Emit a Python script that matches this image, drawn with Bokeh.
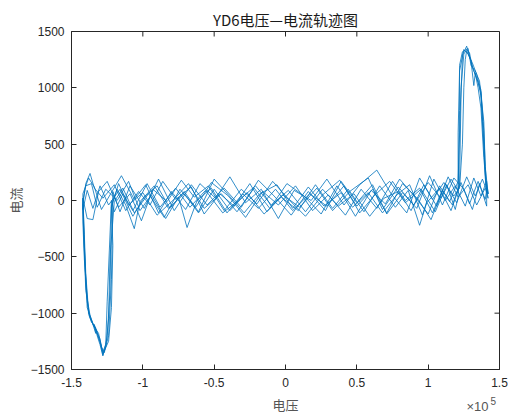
from bokeh.plotting import figure
from bokeh.layouts import column
from bokeh.models import Range1d, FixedTicker, Label
from bokeh.embed import file_html
from bokeh.resources import INLINE

# Voltage in units of 1e5 V, current in A, five cycles of the trajectory
c1_v = [-1.42, -1.40, -1.37, -1.34, -1.28, -1.20, -1.12, -1.03, -0.95, -0.86,
        -0.77, -0.66, -0.57, -0.46, -0.36, -0.25, -0.13, -0.02, 0.10, 0.22,
        0.33, 0.45, 0.58, 0.68, 0.79, 0.90, 1.00, 1.09, 1.16, 1.21,
        1.21, 1.22, 1.25, 1.28, 1.31, 1.34, 1.37, 1.39, 1.40, 1.41,
        1.42, 1.38, 1.33, 1.27, 1.20, 1.12, 1.03, 0.94, 0.84, 0.75,
        0.64, 0.53, 0.42, 0.30, 0.19, 0.07, -0.05, -0.16, -0.28, -0.40,
        -0.52, -0.63, -0.74, -0.85, -0.96, -1.06, -1.14, -1.20,
        -1.23, -1.24, -1.26, -1.28, -1.30, -1.33, -1.36, -1.38, -1.40, -1.41]
c1_i = [-30, 150, 240, 110, 20, 140, -90, 80, -40, 170,
        10, 120, -120, 60, -50, 150, -100, 50, -60, 110,
        -90, 80, 200, -80, 120, -40, 160, 20, 190, 90,
        600, 1150, 1340, 1300, 1220, 1120, 980, 620, 300, 120,
        60, 190, 40, 210, -20, 150, -110, 110, 0, 170,
        -70, 100, -130, 50, -90, 130, -40, 80, -150, 40,
        160, -60, 100, -150, 60, -110, 110, -10,
        -500, -1050, -1300, -1370, -1250, -1150, -1070, -990, -650, -300]

c2_v = [-1.42, -1.39, -1.35, -1.31, -1.25, -1.17, -1.09, -1.01, -0.93, -0.83,
        -0.73, -0.64, -0.54, -0.43, -0.31, -0.20, -0.09, 0.03, 0.14, 0.26,
        0.38, 0.50, 0.61, 0.71, 0.82, 0.93, 1.02, 1.10, 1.17, 1.22,
        1.23, 1.24, 1.27, 1.29, 1.32, 1.35, 1.37, 1.38, 1.40, 1.41,
        1.41, 1.36, 1.31, 1.25, 1.18, 1.10, 1.01, 0.92, 0.82, 0.71,
        0.61, 0.50, 0.39, 0.28, 0.16, 0.04, -0.08, -0.19, -0.31, -0.43,
        -0.55, -0.66, -0.78, -0.89, -0.99, -1.09, -1.16, -1.21,
        -1.22, -1.24, -1.27, -1.29, -1.31, -1.34, -1.37, -1.39, -1.41, -1.42]
c2_i = [20, -160, -170, 80, 170, -60, 60, -180, 100, -10,
        180, 30, 130, -90, 100, -30, 170, 0, -140, 50,
        180, -50, 100, -110, 150, 10, -170, 90, -40, 140,
        900, 1290, 1370, 1280, 1150, 1050, 930, 700, 250, 60,
        -50, 150, -80, 100, 200, -40, 220, -70, 70, -120,
        140, -20, 170, -90, 80, -130, 40, 180, -60, 110,
        -40, 140, -90, 190, -70, 130, -100, 80,
        -700, -1200, -1350, -1300, -1180, -1120, -1040, -900, -520, -200]

c3_v = [-1.42, -1.38, -1.34, -1.29, -1.23, -1.15, -1.06, -0.98, -0.89, -0.80,
        -0.70, -0.60, -0.49, -0.39, -0.28, -0.17, -0.05, 0.06, 0.18, 0.29,
        0.41, 0.52, 0.64, 0.74, 0.85, 0.94, 1.03, 1.11, 1.18, 1.22,
        1.24, 1.25, 1.26, 1.27, 1.30, 1.32, 1.33, 1.35, 1.37, 1.39, 1.41,
        1.40, 1.35, 1.29, 1.23, 1.16, 1.08, 0.99, 0.94, 0.86, 0.77,
        0.66, 0.55, 0.44, 0.33, 0.21, 0.09, -0.03, -0.15, -0.27, -0.39,
        -0.50, -0.61, -0.71, -0.82, -0.92, -1.02, -1.06, -1.12, -1.18, -1.22,
        -1.23, -1.25, -1.28, -1.30, -1.32, -1.34, -1.33, -1.36, -1.39, -1.41, -1.42]
c3_i = [60, 200, 120, -80, 50, 220, 10, 140, -110, 80,
        -80, 150, 20, 210, -20, 100, -160, 90, 0, 190,
        -40, 140, 270, 60, -110, 200, 10, 160, 40, 110,
        500, 1000, 1250, 1330, 1240, 1020, 1130, 1000, 820, 380, 90,
        10, 170, -30, 160, -90, 110, -20, -220, 90, -60,
        130, -100, 100, -70, 140, -90, 30, -120, 70, -90,
        100, -110, 60, -70, 130, -10, -250, -40, 100, -40,
        -800, -1220, -1380, -1280, -1200, -1100, -1180, -1060, -950, -420, -100]

c4_v = [-1.42, -1.40, -1.36, -1.32, -1.26, -1.18, -1.10, -1.02, -0.94, -0.84,
        -0.75, -0.69, -0.62, -0.52, -0.41, -0.30, -0.19, -0.07, 0.05, 0.17,
        0.29, 0.41, 0.52, 0.62, 0.73, 0.84, 0.95, 1.05, 1.13, 1.19, 1.21,
        1.22, 1.22, 1.24, 1.28, 1.30, 1.33, 1.36, 1.39, 1.40, 1.42,
        1.41, 1.37, 1.32, 1.26, 1.19, 1.12, 1.04, 0.96, 0.87, 0.78,
        0.68, 0.58, 0.47, 0.36, 0.25, 0.13, 0.01, -0.11, -0.22, -0.34,
        -0.45, -0.57, -0.68, -0.79, -0.90, -1.00, -1.10, -1.17, -1.22,
        -1.21, -1.22, -1.24, -1.28, -1.30, -1.32, -1.35, -1.37, -1.40, -1.41, -1.42]
c4_i = [0, 130, 150, -60, 100, 0, 170, -90, 50, -160,
        30, -240, 0, 110, -110, 60, -70, 100, -90, 60,
        -50, 130, -110, 40, 170, -20, 100, -100, 140, -80, 30,
        800, 1200, 1320, 1350, 1200, 1150, 1060, 700, 300, 60,
        170, 40, 200, -50, 130, 0, 190, -130, 140, 50,
        -110, 70, -60, 130, -120, 40, 150, -70, 110, -100,
        60, -70, 150, 0, -130, 70, -40, 150, -60,
        -400, -950, -1250, -1360, -1230, -1170, -1090, -1020, -800, -450, -30]

c5_v = [-1.42, -1.39, -1.35, -1.30, -1.24, -1.16, -1.07, -0.99, -0.90, -0.81,
        -0.71, -0.61, -0.50, -0.40, -0.29, -0.18, -0.06, 0.05, 0.16, 0.27,
        0.39, 0.49, 0.60, 0.70, 0.80, 0.91, 1.00, 1.08, 1.15, 1.21,
        1.23, 1.25, 1.27, 1.29, 1.31, 1.34, 1.37, 1.39, 1.40, 1.42,
        1.40, 1.34, 1.28, 1.21, 1.14, 1.06, 0.97, 0.88, 0.79, 0.69,
        0.59, 0.48, 0.37, 0.26, 0.14, 0.02, -0.10, -0.21, -0.33, -0.44,
        -0.56, -0.67, -0.77, -0.88, -0.97, -1.07, -1.14, -1.20, -1.22,
        -1.25, -1.26, -1.28, -1.31, -1.33, -1.36, -1.38, -1.40, -1.41, -1.42]
c5_i = [-80, 90, -70, 130, -40, 100, -140, 30, 130, -70,
        80, -100, 190, 50, -110, 60, 140, -70, 120, -50,
        70, -140, 90, -30, 190, 30, -120, 130, -10, 170,
        1000, 1300, 1340, 1310, 1180, 1090, 960, 520, 200, 20,
        110, -40, 140, 30, 210, -50, 140, -90, 80, 20,
        -140, 60, -50, 100, -100, 90, -40, 130, 0, -110,
        90, -60, 110, -60, 150, -90, 60, -100, 0,
        -900, -1280, -1340, -1220, -1130, -1080, -1010, -700, -380, 20]

x_ticks = [-1.5, -1.0, -0.5, 0.0, 0.5, 1.0, 1.5]
x_tick_labels = ["-1.5", "-1", "-0.5", "0", "0.5", "1", "1.5"]
y_ticks = [-1500, -1000, -500, 0, 500, 1000, 1500]

voltage = c1_v + c2_v + c3_v + c4_v + c5_v
current = c1_i + c2_i + c3_i + c4_i + c5_i

AX = "#262626"
LBL = "#555555"
CJK = "Noto Sans CJK SC"
X0, X1, Y0, Y1 = -1.5, 1.5, -1500, 1500
W, H_MAIN, H_STRIP = 509, 395, 19

p = figure(width=W, height=H_MAIN, output_backend="svg", toolbar_location=None,
           x_range=Range1d(X0, X1), y_range=Range1d(Y0, Y1),
           min_border_left=71, min_border_right=10, min_border_top=31,
           min_border_bottom=26, background_fill_color="white",
           border_fill_color="white")

p.line(voltage, current, line_color="#0072BD", line_width=0.8)

# inward ticks on the top and right edges of the box (5 px long)
tick_dy = 5 * (Y1 - Y0) / 338.0
tick_dx = 5 * (X1 - X0) / 428.0
p.segment(x0=x_ticks, y0=[Y1] * len(x_ticks), x1=x_ticks, y1=[Y1 - tick_dy] * len(x_ticks),
          line_color=AX, line_width=1)
p.segment(x0=[X1] * len(y_ticks), y0=y_ticks, x1=[X1 - tick_dx] * len(y_ticks), y1=y_ticks,
          line_color=AX, line_width=1)

p.xgrid.visible = False
p.ygrid.visible = False
p.outline_line_color = AX
p.outline_line_width = 1

p.title.text = "YD6电压—电流轨迹图"
p.title.text_font = CJK
p.title.text_font_size = "15px"
p.title.text_font_style = "normal"
p.title.text_color = "#1a1a1a"
p.title.align = "center"
p.title.standoff = 3

xa = p.xaxis[0]
xa.ticker = FixedTicker(ticks=x_ticks)
xa.major_label_overrides = {t: s for t, s in zip(x_ticks, x_tick_labels)}
ya = p.yaxis[0]
ya.ticker = FixedTicker(ticks=y_ticks)

for ax in (xa, ya):
    ax.axis_line_color = AX
    ax.major_tick_line_color = AX
    ax.major_tick_in = 5
    ax.major_tick_out = 0
    ax.minor_tick_line_color = None
    ax.major_label_text_font = "Liberation Sans"
    ax.major_label_text_font_size = "12px"
    ax.major_label_text_color = AX
    ax.axis_label_text_font = CJK
    ax.axis_label_text_font_size = "13px"
    ax.axis_label_text_font_style = "normal"
    ax.axis_label_text_color = LBL

xa.major_label_standoff = 8
ya.axis_label = "电流"
ya.major_label_standoff = 7
ya.axis_label_standoff = 3

# bottom strip (frame aligned with the main plot) holding the x-axis title
# and the exponent note; it shares the voltage range of the main plot
s = figure(width=W, height=H_STRIP, output_backend="svg", toolbar_location=None,
           x_range=p.x_range, y_range=Range1d(0, H_STRIP),
           min_border=0, x_axis_type=None, y_axis_type=None,
           background_fill_color="white", border_fill_color="white")
s.outline_line_color = None
s.xgrid.visible = False
s.ygrid.visible = False
s.add_layout(Label(x=0.0, y=10, text="电压", text_align="center", text_baseline="middle",
                   text_font=CJK, text_font_size="13px", text_color=LBL))
s.add_layout(Label(x=X1, y=8, x_offset=-33, text="×10", text_align="left", text_baseline="middle",
                   text_font="Liberation Sans", text_font_size="13px", text_color=LBL))
s.add_layout(Label(x=X1, y=14, x_offset=-9, text="5", text_align="left", text_baseline="middle",
                   text_font="Liberation Sans", text_font_size="10px", text_color=LBL))

layout = column(p, s, spacing=0)
open("out.html", "w").write(file_html(layout, INLINE))
